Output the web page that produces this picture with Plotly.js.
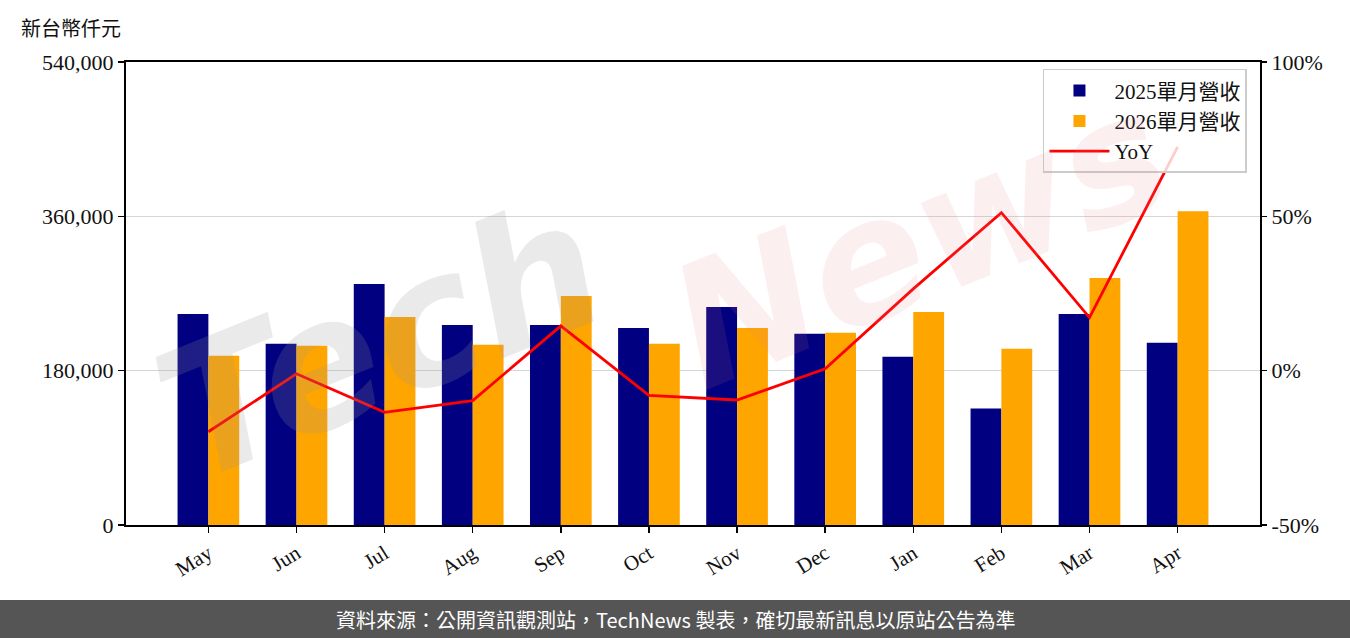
<!DOCTYPE html>
<html>
<head>
<meta charset="utf-8">
<script src="https://cdn.plot.ly/plotly-3.0.1.min.js"></script>
<style>html,body{margin:0;padding:0;background:#fff;}#chart{width:1350px;height:638px;}</style>
</head>
<body>
<div id="chart"></div>
<script>
const months = ["May","Jun","Jul","Aug","Sep","Oct","Nov","Dec","Jan","Feb","Mar","Apr"];
const rev2025 = [246200, 211300, 281000, 233400, 233400, 229900, 254300, 223000, 196300, 135900, 246200, 212500];
const rev2026 = [197400, 209000, 242700, 210200, 267100, 211400, 229900, 224100, 248500, 205500, 288000, 365800];
const yoy = [-19.8, -1.0, -13.5, -9.7, 14.5, -8.0, -9.5, 0.6, 26.5, 51.2, 17.2, 72.5];
const xIdx = months.map((m, i) => i);

const serif = "Liberation Serif, DejaVu Serif, Noto Sans CJK TC, serif";

const traces = [
  {type:'bar', name:'2025單月營收', x:xIdx, y:rev2025, width:0.35, offset:-0.35,
   marker:{color:'#000080'}, yaxis:'y', hoverinfo:'y'},
  {type:'bar', name:'2026單月營收', x:xIdx, y:rev2026, width:0.35, offset:0,
   marker:{color:'#FFA500'}, yaxis:'y', hoverinfo:'y'},
  {type:'scatter', mode:'lines', name:'YoY', x:xIdx, y:yoy, yaxis:'y2',
   line:{color:'#FF0000', width:2.8}}
];

const layout = {
  width:1350, height:638,
  margin:{l:126, r:90, t:62, b:113},
  paper_bgcolor:'#fff', plot_bgcolor:'#fff',
  barmode:'overlay',
  showlegend:true,
  font:{family:serif, color:'#000', size:21},
  xaxis:{
    range:[-0.935, 11.935], tickvals:xIdx, ticktext:months, tickangle:-32,
    tickfont:{family:serif, size:21, color:'#111'},
    ticks:'outside', ticklen:6, tickwidth:1.5, tickcolor:'#000',
    showline:true, linecolor:'#000', linewidth:2, mirror:true,
    showgrid:false, zeroline:false
  },
  yaxis:{
    range:[0, 540000], tickvals:[0,180000,360000,540000],
    ticktext:['0','180,000','360,000','540,000'],
    tickfont:{family:serif, size:22, color:'#111'},
    ticks:'outside', ticklen:6, tickwidth:1.5, tickcolor:'#000',
    showline:true, linecolor:'#000', linewidth:2, mirror:true,
    showgrid:true, gridcolor:'#d6d6d6', gridwidth:1.5, zeroline:false
  },
  yaxis2:{
    overlaying:'y', side:'right', range:[-50, 100],
    tickvals:[-50,0,50,100], ticktext:['-50%','0%','50%','100%'],
    tickfont:{family:serif, size:22, color:'#111'},
    ticks:'outside', ticklen:6, tickwidth:1.5, tickcolor:'#000',
    showline:false, showgrid:false, zeroline:false
  },
  legend:{
    x:0.9885, y:0.985, xanchor:'right', yanchor:'top',
    bgcolor:'rgba(255,255,255,0.8)', bordercolor:'#cccccc', borderwidth:1.5,
    font:{family:serif, size:21, color:'#111'}, tracegroupgap:0, itemwidth:60
  },
  shapes:[
    {type:'rect', xref:'paper', yref:'paper', x0:-0.2, x1:1.2,
     y0:(525-638)/463, y1:(525-600)/463, fillcolor:'#555555', line:{width:0}, layer:'above'}
  ],
  annotations:[
    {xref:'paper', yref:'paper', x:(19-126)/1134, y:(525-27)/463, xanchor:'left', yanchor:'middle',
     text:'新台幣仟元', showarrow:false, font:{family:'Noto Sans CJK TC', size:20, color:'#111'}},
    {xref:'paper', yref:'paper', x:(675-126)/1134, y:(525-619)/463, xanchor:'center', yanchor:'middle',
     text:'資料來源：公開資訊觀測站，TechNews 製表，確切最新訊息以原站公告為準', showarrow:false,
     font:{family:'Noto Sans CJK TC', size:20, color:'#ffffff'}},
    {xref:'paper', yref:'paper', x:(380-126)/1134, y:(525-340)/463, xanchor:'center', yanchor:'middle',
     text:'<i><b>Tech</b></i>', showarrow:false, textangle:-22,
     font:{family:'DejaVu Sans', size:180, color:'rgba(150,150,150,0.2)'}},
    {xref:'paper', yref:'paper', x:(920-126)/1134, y:(525-240)/463, xanchor:'center', yanchor:'middle',
     text:'<i><b>News</b></i>', showarrow:false, textangle:-22,
     font:{family:'DejaVu Sans', size:170, color:'rgba(220,120,130,0.12)'}}
  ]
};

Plotly.newPlot('chart', traces, layout, {displayModeBar:false, staticPlot:true});
</script>
</body>
</html>
